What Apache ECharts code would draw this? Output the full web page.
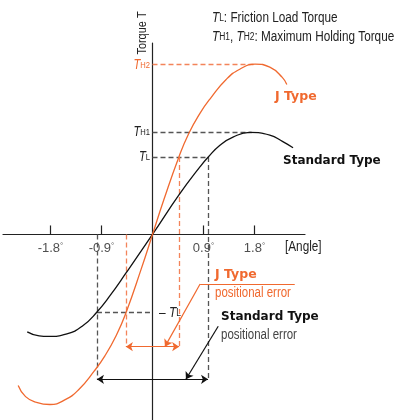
<!DOCTYPE html>
<html>
<head>
<meta charset="utf-8">
<script src="https://cdn.jsdelivr.net/npm/echarts@6/dist/echarts.min.js"></script>
<style>
  html, body { margin: 0; padding: 0; background: #fff; }
  #chart { width: 403px; height: 420px; }
</style>
</head>
<body>
<div id="chart"></div>
<script>
// 角度 (deg) / トルク (TH1 = 1)
const angleTicks = [-1.8, -0.9, 0.9, 1.8];

// Standard Type curve [angle, torque]
const stdCurve = [
  [-2.21, -0.955], [-2.0, -0.995], [-1.84, -1.0], [-1.51, -0.975], [-1.23, -0.895],
  [-0.98, -0.76], [-0.75, -0.6], [-0.47, -0.38], [0, 0], [0.47, 0.39],
  [0.84, 0.665], [0.98, 0.757], [1.19, 0.875], [1.42, 0.955], [1.72, 1.0],
  [2.07, 0.975], [2.3, 0.91], [2.48, 0.85]
];
// J Type curve [angle, torque]
const jCurve = [
  [-2.37, -1.48], [-2.24, -1.59], [-2.05, -1.645], [-1.81, -1.667], [-1.54, -1.62],
  [-1.3, -1.52], [-1.03, -1.34], [-0.84, -1.19], [-0.64, -0.99], [-0.466, -0.765],
  [-0.2, -0.34], [0, 0], [0.2, 0.34], [0.466, 0.76], [0.64, 0.99], [0.84, 1.19],
  [1.03, 1.34], [1.3, 1.52], [1.54, 1.62], [1.81, 1.67], [2.07, 1.64], [2.29, 1.54],
  [2.37, 1.47]
];

const TH1 = 1.0;
const TH2 = 1.67;
const TL = 0.76;
const stdErr = [-0.98, 0.98];   // Standard Type positional error
const jErr = [-0.47, 0.47];     // J Type positional error
const stdArrowY = -1.42;
const jArrowY = -1.1;

const ORANGE = '#f0692f';
const ORANGE_D = '#f3845a';
const INK = '#222';
const GRAY = '#555';
const SANS = "'Liberation Sans', Arial, sans-serif";
const BOLD = "'DejaVu Sans', sans-serif";
const NARROW = 0.84;   // 縦長フォントの代わりに横方向を縮める

function seg(a, b) { return [{ coord: a }, { coord: b }]; }

// T + 添字
function tRich(color, size, sub) {
  return {
    i: { fontFamily: SANS, fontSize: size, fontStyle: 'italic', fill: color },
    s: { fontFamily: SANS, fontSize: sub, fill: color },
    n: { fontFamily: SANS, fontSize: size, fill: color }
  };
}

const grayDash = [
  seg([0, TH1], [1.75, TH1]),
  seg([0, TL], [stdErr[1], TL]),
  seg([stdErr[1], TL], [stdErr[1], stdArrowY]),
  seg([stdErr[0], 0], [stdErr[0], stdArrowY]),
  seg([stdErr[0], -TL], [0, -TL])
];
const orangeDash = [
  seg([0, TH2], [1.81, TH2]),
  seg([jErr[1], TL], [jErr[1], jArrowY]),
  seg([jErr[0], 0], [jErr[0], jArrowY])
];

let myChart = echarts.init(document.getElementById('chart'), null, { renderer: 'canvas' });

const option = {
  animation: false,
  grid: { left: 3, top: 43, width: 302, height: 377, outerBoundsMode: 'none' },
  xAxis: {
    type: 'value',
    min: -2.638, max: 2.691,
    splitLine: { show: false },
    axisLine: { onZero: true, lineStyle: { color: INK, width: 1.2 } },
    axisTick: { show: true, inside: true, length: 9, customValues: angleTicks, lineStyle: { color: INK, width: 1.2 } },
    axisLabel: { show: false }
  },
  yAxis: {
    type: 'value',
    min: -1.819, max: 1.877,
    splitLine: { show: false },
    axisLine: { onZero: true, lineStyle: { color: INK, width: 1.2 } },
    axisTick: { show: false },
    axisLabel: { show: false }
  },
  series: [
    {
      name: 'Standard Type', type: 'line', smooth: true, symbol: 'none', clip: false,
      data: stdCurve, lineStyle: { color: '#111', width: 1.3 }, z: 5
    },
    {
      name: 'J Type', type: 'line', smooth: true, symbol: 'none', clip: false,
      data: jCurve, lineStyle: { color: ORANGE, width: 1.3 }, z: 5
    },
    {
      // 角度ラベル
      name: 'angleLabels', type: 'scatter', symbolSize: 1, itemStyle: { color: 'rgba(0,0,0,0)' },
      data: angleTicks.map(v => [v, 0]), silent: true,
      label: {
        show: true, position: 'bottom', distance: 7,
        formatter: p => '{n|' + p.value[0] + '}{d|°}',
        rich: {
          n: { fontFamily: SANS, fontSize: 13, color: INK },
          d: { fontFamily: SANS, fontSize: 8, color: INK, verticalAlign: 'top' }
        }
      }
    },
    {
      name: 'guides', type: 'line', data: [], clip: false,
      markLine: {
        silent: true, symbol: 'none', label: { show: false },
        lineStyle: { color: GRAY, type: [5, 3], width: 1.3 },
        data: grayDash
      }
    },
    {
      name: 'guidesJ', type: 'line', data: [], clip: false,
      markLine: {
        silent: true, symbol: 'none', label: { show: false },
        lineStyle: { color: ORANGE_D, type: [5, 3], width: 1.3 },
        data: orangeDash
      }
    },
    {
      name: 'errJ', type: 'line', data: [], clip: false,
      markLine: {
        silent: true, label: { show: false }, symbolSize: 7,
        symbol: ['arrow', 'arrow'],
        lineStyle: { color: ORANGE, type: 'solid', width: 1.2 },
        data: [
          seg([jErr[0], jArrowY], [jErr[1], jArrowY]),
          [{ coord: [0.84, -0.485], symbol: 'none' }, { coord: [0.22, jArrowY], symbol: 'arrow' }],
          [{ coord: [0.84, -0.485], symbol: 'none' }, { coord: [2.51, -0.485], symbol: 'none' }]
        ]
      }
    },
    {
      name: 'errStd', type: 'line', data: [], clip: false,
      markLine: {
        silent: true, label: { show: false }, symbolSize: 7,
        symbol: ['arrow', 'arrow'],
        lineStyle: { color: '#111', type: 'solid', width: 1.2 },
        data: [
          seg([stdErr[0], stdArrowY], [stdErr[1], stdArrowY]),
          [{ coord: [1.16, -0.9], symbol: 'none' }, { coord: [0.59, stdArrowY], symbol: 'arrow' }],
          [{ coord: [1.16, -0.9], symbol: 'none' }, { coord: [2.96, -0.9], symbol: 'none' }]
        ]
      }
    }
  ],
  graphic: [
    { type: 'text', x: 142, y: 33, rotation: Math.PI / 2, scaleX: NARROW, style: {
      text: 'Torque T', font: '13px ' + SANS, fill: INK, align: 'center', verticalAlign: 'middle' } },
    { type: 'text', x: 212, y: 18, scaleX: NARROW, style: {
      text: '{i|T}{s|L}{n|: Friction Load Torque}', verticalAlign: 'middle', rich: tRich(INK, 14, 10) } },
    { type: 'text', x: 212, y: 37, scaleX: NARROW, style: {
      text: '{i|T}{s|H1}{n|, }{i|T}{s|H2}{n|: Maximum Holding Torque}', verticalAlign: 'middle', rich: tRich(INK, 14, 10) } },
    { type: 'text', x: 150, y: 65, scaleX: 0.8, style: {
      text: '{i|T}{s|H2}', align: 'right', verticalAlign: 'middle', rich: tRich(ORANGE, 14, 9.5) } },
    { type: 'text', x: 150, y: 132, scaleX: 0.8, style: {
      text: '{i|T}{s|H1}', align: 'right', verticalAlign: 'middle', rich: tRich(INK, 14, 9.5) } },
    { type: 'text', x: 150, y: 157, scaleX: 0.8, style: {
      text: '{i|T}{s|L}', align: 'right', verticalAlign: 'middle', rich: tRich(INK, 14, 9.5) } },
    { type: 'text', x: 159, y: 313, scaleX: 0.85, style: {
      text: '{n|– }{i|T}{s|L}', verticalAlign: 'middle', rich: tRich(INK, 14, 10) } },
    { type: 'text', x: 285, y: 247, scaleX: NARROW, style: {
      text: '[Angle]', font: '14px ' + SANS, fill: INK, verticalAlign: 'middle' } },
    { type: 'text', x: 275, y: 97, style: {
      text: 'J Type', font: 'bold 12.5px ' + BOLD, fill: ORANGE, verticalAlign: 'middle' } },
    { type: 'text', x: 283, y: 161, style: {
      text: 'Standard Type', font: 'bold 12px ' + BOLD, fill: '#111', verticalAlign: 'middle' } },
    { type: 'text', x: 215, y: 275, style: {
      text: 'J Type', font: 'bold 12.5px ' + BOLD, fill: ORANGE, verticalAlign: 'middle' } },
    { type: 'text', x: 215, y: 293, scaleX: 0.82, style: {
      text: 'positional error', font: '14px ' + SANS, fill: ORANGE, verticalAlign: 'middle' } },
    { type: 'text', x: 221, y: 317, style: {
      text: 'Standard Type', font: 'bold 12px ' + BOLD, fill: '#111', verticalAlign: 'middle' } },
    { type: 'text', x: 221, y: 335, scaleX: 0.82, style: {
      text: 'positional error', font: '14px ' + SANS, fill: '#444', verticalAlign: 'middle' } }
  ]
};

myChart.setOption(option);
</script>
</body>
</html>
